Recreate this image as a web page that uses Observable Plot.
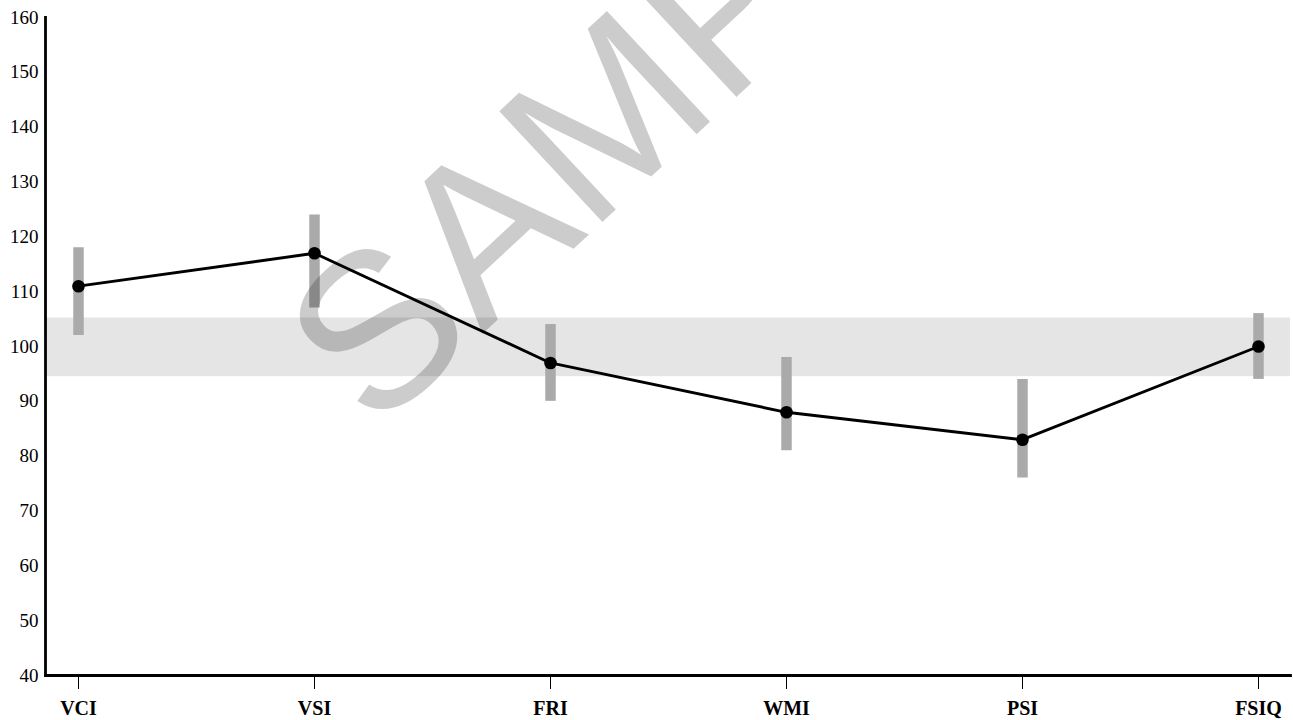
<!DOCTYPE html>
<html>
<head>
<meta charset="utf-8">
<script src="https://cdn.jsdelivr.net/npm/d3@7"></script>
<script src="https://cdn.jsdelivr.net/npm/@observablehq/plot@0.6"></script>
<style>
  html, body { margin: 0; padding: 0; background: #fff; }
  svg { display: block; }
</style>
</head>
<body>
<div id="chart"></div>
<script>
const categories = ["VCI", "VSI", "FRI", "WMI", "PSI", "FSIQ"];
const scores = [111, 117, 97, 88, 83, 100];
const ciLow = [102, 107, 90, 81, 76, 94];
const ciHigh = [118, 124, 104, 98, 94, 106];
const averageBand = [94.5, 105.2];
const yTicks = [40, 50, 60, 70, 80, 90, 100, 110, 120, 130, 140, 150, 160];
const watermark = ["SAMPLE"];

const data = categories.map((c, i) => ({ cat: c, score: scores[i], lo: ciLow[i], hi: ciHigh[i] }));

const chart = Plot.plot({
  width: 1293,
  height: 720,
  marginLeft: 45,
  marginRight: 3,
  marginTop: 17,
  marginBottom: 45,
  style: { fontFamily: "'Liberation Serif', serif", fontSize: "19px", color: "#000", background: "#fff" },
  x: { type: "point", domain: categories, padding: 0.1355, label: null },
  y: { domain: [40, 160], ticks: yTicks, label: null },
  marks: [
    Plot.rect([averageBand], { y1: d => d[0], y2: d => d[1], fill: "#e5e5e5" }),
    Plot.ruleX(data, { x: "cat", y1: "lo", y2: "hi", stroke: "#aaaaaa", strokeWidth: 10.5 }),
    Plot.line(data, { x: "cat", y: "score", stroke: "#000", strokeWidth: 2.9 }),
    Plot.dot(data, { x: "cat", y: "score", r: 6.3, fill: "#000", stroke: "none" }),
    Plot.axisY({ ticks: yTicks, tickSize: 0, tickPadding: 7, fontSize: 19, label: null }),
    Plot.axisX({ tickSize: 14, tickPadding: 11, fontSize: 20, fontWeight: "bold", label: null }),
    Plot.frame({ anchor: "left", stroke: "#000", strokeWidth: 2.8 }),
    Plot.frame({ anchor: "bottom", stroke: "#000", strokeWidth: 2.8 }),
    Plot.text(watermark, {
      text: d => d,
      frameAnchor: "middle",
      dx: -15, dy: -268,
      rotate: -43,
      fontSize: 220,
      fontFamily: "'Liberation Sans', Arial, sans-serif",
      fill: "#000",
      fillOpacity: 0.2
    })
  ]
});
document.getElementById("chart").appendChild(chart);
</script>
</body>
</html>
